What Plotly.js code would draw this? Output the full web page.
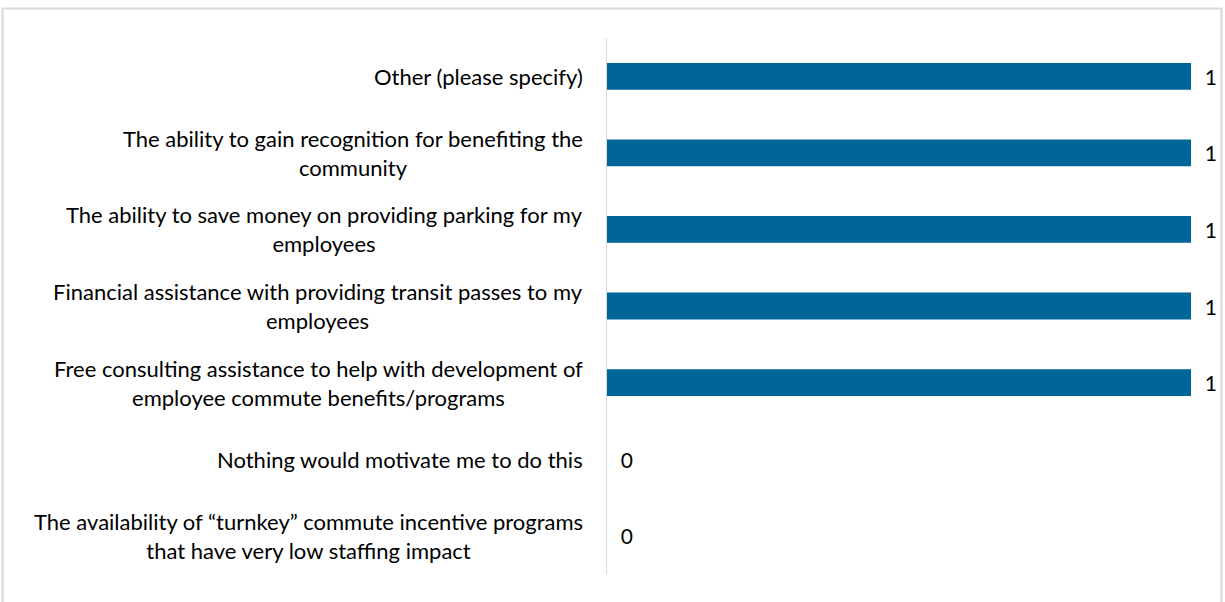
<!DOCTYPE html>
<html>
<head>
<meta charset="utf-8">
<script src="https://cdn.plot.ly/plotly-3.0.1.min.js"></script>
<style>
  html, body { margin: 0; padding: 0; background: #fff; }
  #plot { width: 1225px; height: 602px; }
</style>
</head>
<body>
<div id="plot"></div>
<script>
// categories listed bottom to top
const categories = [
  'The availability of \u201cturnkey\u201d commute incentive programs<br>that have very low staffing impact',
  'Nothing would motivate me to do this',
  'Free consulting assistance to help with development of<br>employee commute benefits/programs',
  'Financial assistance with providing transit passes to my<br>employees',
  'The ability to save money on providing parking for my<br>employees',
  'The ability to gain recognition for benefiting the<br>community',
  'Other (please specify)'
];
const counts = [0, 0, 1, 1, 1, 1, 1];

const fontFamily = 'Lato, "Open Sans", sans-serif';
const ids = categories.map((c, i) => 'c' + i);

const trace = {
  type: 'bar',
  orientation: 'h',
  x: counts,
  y: ids,
  marker: { color: '#00669a' },
  texttemplate: '  %{x}',
  textposition: 'outside',
  cliponaxis: false,
  textfont: { family: fontFamily, size: 21, color: '#000' },
  hoverinfo: 'none'
};

const labelAnnotations = categories.map((c, i) => ({
  xref: 'paper', yref: 'y',
  x: 0, y: ids[i],
  xanchor: 'right', yanchor: 'middle',
  xshift: -22,
  align: 'center',
  showarrow: false,
  text: c,
  font: { family: fontFamily, size: 22, color: '#000' }
}));

const layout = {
  width: 1225,
  height: 602,
  margin: { l: 607, r: 34, t: 38, b: 28, pad: 0 },
  paper_bgcolor: '#fff',
  plot_bgcolor: '#fff',
  bargap: 0.65,
  showlegend: false,
  xaxis: {
    range: [0, 1],
    visible: false,
    fixedrange: true
  },
  yaxis: {
    type: 'category',
    showticklabels: false,
    ticks: '',
    showgrid: false,
    zeroline: false,
    showline: true,
    linecolor: '#d9d9d9',
    linewidth: 1.5,
    fixedrange: true
  },
  annotations: labelAnnotations,
  shapes: [{
    type: 'rect',
    xref: 'paper', yref: 'paper',
    x0: -1.035, x1: 1.0522,
    y0: -0.1, y1: 1.055,
    line: { color: '#d9d9d9', width: 2 },
    fillcolor: 'rgba(0,0,0,0)'
  }]
};

Plotly.newPlot('plot', [trace], layout, { displayModeBar: false, staticPlot: true });
</script>
</body>
</html>
